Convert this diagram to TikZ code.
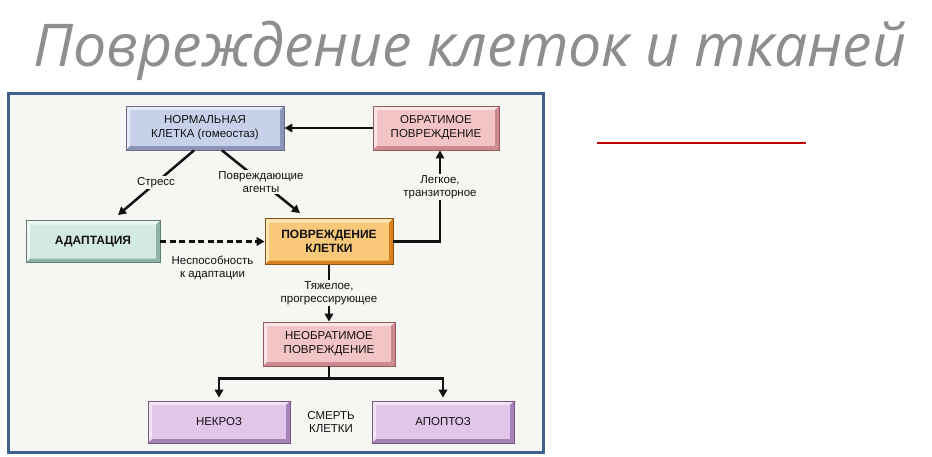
\documentclass[tikz,border=0pt]{standalone}
\usepackage{fontspec}
\setmainfont{Liberation Sans}
\newfontfamily\titlefont{Open Sans}
\usepackage{tikz}
\usetikzlibrary{calc,arrows.meta}
\definecolor{ink}{HTML}{111111}
\definecolor{paper}{HTML}{F6F6F3}
\definecolor{frame}{HTML}{3E6391}
\definecolor{titlegray}{HTML}{8E8E8E}
\definecolor{redline}{HTML}{C00000}
\definecolor{blueF}{HTML}{C8D1EA}
\definecolor{blueL}{HTML}{E6EAF6}
\definecolor{blueD}{HTML}{8C96B8}
\definecolor{blueO}{HTML}{666C8A}
\definecolor{pinkF}{HTML}{F3C4C6}
\definecolor{pinkL}{HTML}{FBE4E5}
\definecolor{pinkD}{HTML}{CF8990}
\definecolor{pinkO}{HTML}{945C63}
\definecolor{mintF}{HTML}{D3EAE2}
\definecolor{mintL}{HTML}{EDF7F3}
\definecolor{mintD}{HTML}{8FB4A7}
\definecolor{mintO}{HTML}{5F7E70}
\definecolor{orangeF}{HTML}{F9C879}
\definecolor{orangeL}{HTML}{FCE3B2}
\definecolor{orangeD}{HTML}{D9801F}
\definecolor{orangeO}{HTML}{8A5414}
\definecolor{lilacF}{HTML}{E2C6E9}
\definecolor{lilacL}{HTML}{F2E4F5}
\definecolor{lilacD}{HTML}{A883B8}
\definecolor{lilacO}{HTML}{725783}
\tikzset{
  % bevelled button: #1 face, #2 light edge, #3 dark edge, #4 outline
  bevel/.style n args={4}{fill=#1, draw=#4, line width=0.8pt,
    path picture={
      \fill[#2] (path picture bounding box.south west) -- (path picture bounding box.north west)
        -- (path picture bounding box.north east) -- ($(path picture bounding box.north east)+(-4pt,-4pt)$)
        -- ($(path picture bounding box.north west)+(4pt,-4pt)$) -- ($(path picture bounding box.south west)+(4pt,4pt)$) -- cycle;
      \fill[#3] (path picture bounding box.south west) -- (path picture bounding box.south east)
        -- (path picture bounding box.north east) -- ($(path picture bounding box.north east)+(-4pt,-4pt)$)
        -- ($(path picture bounding box.south east)+(-4pt,4pt)$) -- ($(path picture bounding box.south west)+(4pt,4pt)$) -- cycle;
    }},
  box/.style={minimum height=44pt, inner sep=2pt, align=center,
    text=ink, font=\fontsize{11.5}{14}\selectfont},
  normal/.style={box, bevel={blueF}{blueL}{blueD}{blueO}},
  revers/.style={box, bevel={pinkF}{pinkL}{pinkD}{pinkO}},
  adapt/.style={box, bevel={mintF}{mintL}{mintD}{mintO},
    font=\bfseries\fontsize{12}{14}\selectfont},
  injury/.style={box, bevel={orangeF}{orangeL}{orangeD}{orangeO},
    font=\bfseries\fontsize{12}{14}\selectfont},
  death/.style={box, bevel={lilacF}{lilacL}{lilacD}{lilacO}},
  arr/.style={draw=ink, line width=2.5pt, -{Triangle[length=8pt,width=8.5pt]}},
  link/.style={draw=ink, line width=2.5pt},
  lab/.style={fill=paper, inner sep=1.5pt, align=center, text=ink,
    font=\fontsize{11.5}{13}\selectfont},
  txt/.style={align=center, text=ink, font=\fontsize{11.5}{13}\selectfont},
}

\begin{document}
\begin{tikzpicture}[x=1pt, y=-1pt]
  \useasboundingbox (0,0) rectangle (932,456);

  % title and rule
  \node[text=titlegray, font=\titlefont\itshape\fontsize{59}{63}\selectfont] (head) at (470,51) {Повреждение клеток и тканей};
  \draw[redline, line width=2.5pt] (597,143) -- (806,143);

  % panel
  \draw[fill=paper, draw=frame, line width=3pt] (8,93) rectangle (543,452);

  \node[normal, minimum width=158pt] (norm) at (205,128) {НОРМАЛЬНАЯ\\КЛЕТКА (гомеостаз)};
  \node[revers, minimum width=126pt] (rev) at (436,128) {ОБРАТИМОЕ\\ПОВРЕЖДЕНИЕ};
  \node[adapt, minimum width=134pt, minimum height=42pt] (adap) at (93,241.5) {АДАПТАЦИЯ};
  \node[injury, minimum width=128pt, minimum height=46pt] (inj) at (329,241.5) {ПОВРЕЖДЕНИЕ\\КЛЕТКИ};
  \node[revers, minimum width=132pt] (irr) at (329,344) {НЕОБРАТИМОЕ\\ПОВРЕЖДЕНИЕ};
  \node[death, minimum width=142pt, minimum height=42pt] (necr) at (219,422) {НЕКРОЗ};
  \node[death, minimum width=142pt, minimum height=42pt] (apop) at (443,422) {АПОПТОЗ};
  \node[txt] (cdeath) at ($(necr)!0.5!(apop)$) {СМЕРТЬ\\КЛЕТКИ};

  \draw[arr] (rev.west) -- (norm.east);
  \draw[arr] ($(norm.south)+(-11,0)$) -- node[lab] {Стресс} ($(adap.north)+(25,-5)$);
  \draw[arr] ($(norm.south)+(17,0)$) -- node[lab] {Повреждающие\\агенты} ($(inj.north)+(-29,-5)$);
  \draw[arr, dashed, dash pattern=on 6pt off 3.5pt] (adap.east) -- node[txt, below=10pt] {Неспособность\\к адаптации} (inj.west);
  \draw[arr] (inj.east) -| node[lab, pos=0.8] {Легкое,\\транзиторное} ($(rev.south)+(4,0)$);
  \draw[arr] (inj.south) -- node[lab] {Тяжелое,\\прогрессирующее} (irr.north);

  % branches to cell death
  \coordinate (fork) at ($(irr.south)+(0,12)$);
  \draw[link] (irr.south) -- (fork);
  \draw[arr] (fork) -| ($(necr.north)+(0,-3)$);
  \draw[arr] (fork) -| ($(apop.north)+(0,-3)$);
\end{tikzpicture}
\end{document}
